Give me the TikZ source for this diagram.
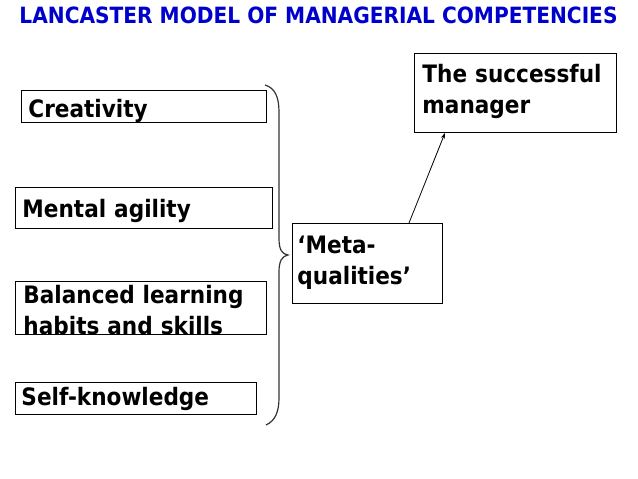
\documentclass[tikz,border=0pt]{standalone}
\usepackage{fontspec}
\setmainfont{DejaVu Sans Condensed}
\usepackage{tikz}
\usetikzlibrary{arrows.meta,calc}
\definecolor{TitleBlue}{RGB}{0,0,204}

\begin{document}
\begin{tikzpicture}[x=1pt,y=-1pt,
    qbox/.style={draw,line width=0.9pt,anchor=north west,inner ysep=0pt,align=left,
      font=\bfseries\fontsize{24}{31}\selectfont}]
  \useasboundingbox (0,0) rectangle (638,479);
  % title
  \node[font=\bfseries\fontsize{22.4}{26}\selectfont,TitleBlue,anchor=base] (title) at (318.5,23.5)
    {LANCASTER MODEL OF MANAGERIAL COMPETENCIES};
  % the four qualities
  \node[qbox,inner xsep=7pt,text width=231pt,text height=27pt,text depth=5pt] (creat) at (21,90) {Creativity};
  \node[qbox,inner xsep=7pt,text width=243pt,text height=30pt,text depth=11pt] (agile) at (15,187) {Mental agility};
  \node[qbox,inner xsep=8pt,text width=235pt,text height=22pt,text depth=31pt] (habits) at (15,281)
    {Balanced learning\\habits and skills};
  \node[qbox,inner xsep=6pt,text width=229pt,text height=23pt,text depth=9pt] (self) at (15,382) {Self-knowledge};
  % brace
  \draw[line width=1.2pt,black!80] (265,85) .. controls (275,88) and (279,97) .. (279,112) -- (279,238)
    .. controls (279,250) and (282,254) .. (288,255) .. controls (282,256) and (279,261) .. (279,272)
    -- (279,398) .. controls (279,412) and (275,421) .. (266,425);
  % meta-qualities and result
  \node[qbox,inner xsep=5pt,text width=140pt,text height=30pt,text depth=50pt] (meta) at (292,223)
    {‘Meta-\\qualities’};
  \node[qbox,inner xsep=8pt,text width=186pt,text height=29pt,text depth=50pt] (manager) at (414,53)
    {The successful\\manager};
  \draw[-{Stealth[length=6pt,width=4pt]},line width=0.8pt]
    ($(meta.north west)+(117,0)$) -- ($(manager.south west)+(31,0)$);
\end{tikzpicture}
\end{document}
